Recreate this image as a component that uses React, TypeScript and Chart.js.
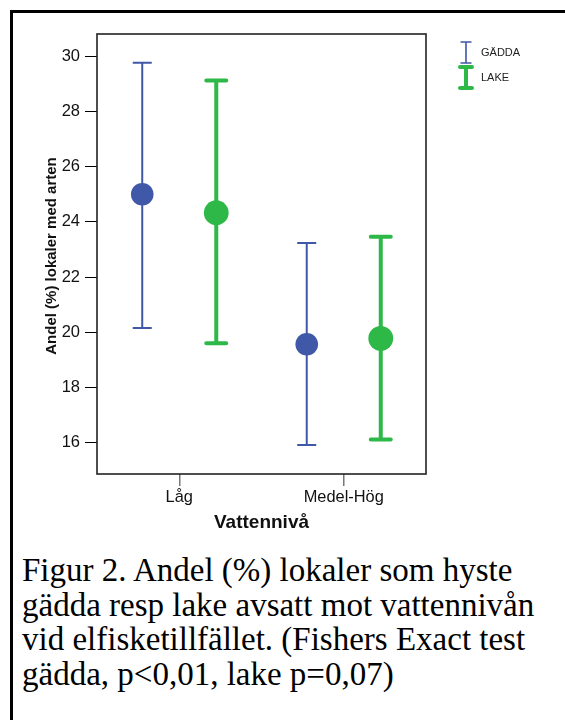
import React, { useEffect, useRef } from 'react';
import { Chart, registerables } from 'chart.js';

Chart.register(...registerables);

// ---- data ----
const categories = ['Låg', 'Medel-Hög'];
const seriesNames = ['GÄDDA', 'LAKE'];
const gaddaMean = [25.0, 19.57];
const gaddaUpper = [29.76, 23.23];
const gaddaLower = [20.16, 15.92];
const lakeMean = [24.33, 19.78];
const lakeUpper = [29.12, 23.46];
const lakeLower = [19.6, 16.12];
const yTicks = [16, 18, 20, 22, 24, 26, 28, 30];
const yTitle = 'Andel (%) lokaler med arten';
const xTitle = 'Vattennivå';
const captionLines = [
  'Figur 2. Andel (%) lokaler som hyste',
  'gädda resp lake avsatt mot vattennivån',
  'vid elfisketillfället. (Fishers Exact test',
  'gädda, p<0,01, lake p=0,07)',
];

// ---- styles ----
const BLUE = '#3F58A8';
const GREEN = '#2EB848';
const GROUP_OFFSET = 0.225;
const SANS = '"Liberation Sans", Arial, sans-serif';

const barStyles = [
  { color: BLUE, lineWidth: 2, capHalf: 9.5, capWidth: 2, capStyle: 'butt', radius: 11.3, legCapHalf: 5.5, legWidth: 1.6 },
  { color: GREEN, lineWidth: 4, capHalf: 10, capWidth: 4, capStyle: 'round', radius: 12.4, legCapHalf: 6, legWidth: 4 },
];

const errorBarPlugin = {
  id: 'errorBars',
  beforeDatasetsDraw(chart: any) {
    const { ctx } = chart;
    const xs = chart.scales.x;
    const ys = chart.scales.y;
    chart.data.datasets.forEach((ds: any, di: number) => {
      const st = barStyles[di];
      ds.data.forEach((p: any, i: number) => {
        const x = xs.getPixelForValue(p.x);
        const yt = ys.getPixelForValue(ds.upper[i]);
        const yb = ys.getPixelForValue(ds.lower[i]);
        ctx.save();
        ctx.strokeStyle = st.color;
        ctx.lineWidth = st.lineWidth;
        ctx.beginPath();
        ctx.moveTo(x, yt);
        ctx.lineTo(x, yb);
        ctx.stroke();
        ctx.lineWidth = st.capWidth;
        ctx.lineCap = st.capStyle;
        ctx.beginPath();
        ctx.moveTo(x - st.capHalf, yt);
        ctx.lineTo(x + st.capHalf, yt);
        ctx.moveTo(x - st.capHalf, yb);
        ctx.lineTo(x + st.capHalf, yb);
        ctx.stroke();
        ctx.restore();
      });
    });
  },
  afterDraw(chart: any) {
    const { ctx, chartArea: a } = chart;
    ctx.save();
    // plot frame
    ctx.strokeStyle = '#222';
    ctx.lineWidth = 1.6;
    ctx.strokeRect(a.left, a.top, a.right - a.left, a.bottom - a.top);
    // y title
    ctx.fillStyle = '#111';
    ctx.font = `bold 15px ${SANS}`;
    ctx.textAlign = 'center';
    ctx.textBaseline = 'middle';
    ctx.save();
    ctx.translate(52, (a.top + a.bottom) / 2 + 2);
    ctx.rotate(-Math.PI / 2);
    ctx.fillText(yTitle, 0, 0);
    ctx.restore();
    // x title
    ctx.font = `bold 19px ${SANS}`;
    ctx.fillText(xTitle, (a.left + a.right) / 2, 523);
    // legend
    chart.data.datasets.forEach((ds: any, di: number) => {
      const st = barStyles[di];
      const lx = a.right + 40;
      const top = 42 + di * 25;
      const bot = top + 21;
      ctx.strokeStyle = st.color;
      ctx.lineWidth = st.legWidth;
      ctx.lineCap = st.capStyle;
      ctx.beginPath();
      ctx.moveTo(lx, top);
      ctx.lineTo(lx, bot);
      ctx.moveTo(lx - st.legCapHalf, top);
      ctx.lineTo(lx + st.legCapHalf, top);
      ctx.moveTo(lx - st.legCapHalf, bot);
      ctx.lineTo(lx + st.legCapHalf, bot);
      ctx.stroke();
      ctx.fillStyle = '#222';
      ctx.font = `11px ${SANS}`;
      ctx.textAlign = 'left';
      ctx.textBaseline = 'middle';
      ctx.fillText(ds.label, lx + 15, (top + bot) / 2);
    });
    ctx.restore();
  },
};

export default function App() {
  const ref = useRef<HTMLCanvasElement | null>(null);

  useEffect(() => {
    if (!ref.current) return;
    const mk = (means: number[], sign: number) =>
      means.map((m, i) => ({ x: i + 1 + sign * GROUP_OFFSET, y: m }));
    const chart = new Chart(ref.current, {
      type: 'scatter',
      data: {
        datasets: [
          {
            label: seriesNames[0],
            data: mk(gaddaMean, -1),
            upper: gaddaUpper,
            lower: gaddaLower,
            pointRadius: barStyles[0].radius,
            pointHoverRadius: barStyles[0].radius,
            pointBackgroundColor: BLUE,
            pointBorderWidth: 0,
            borderColor: BLUE,
            backgroundColor: BLUE,
          } as any,
          {
            label: seriesNames[1],
            data: mk(lakeMean, 1),
            upper: lakeUpper,
            lower: lakeLower,
            pointRadius: barStyles[1].radius,
            pointHoverRadius: barStyles[1].radius,
            pointBackgroundColor: GREEN,
            pointBorderWidth: 0,
            borderColor: GREEN,
            backgroundColor: GREEN,
          } as any,
        ],
      },
      options: {
        responsive: false,
        animation: false,
        events: [],
        layout: { padding: { top: 34, right: 139, bottom: 11, left: 0 } },
        plugins: { legend: { display: false }, tooltip: { enabled: false }, title: { display: false } },
        scales: {
          x: {
            type: 'linear',
            min: 0.5,
            max: 2.5,
            afterBuildTicks: (s: any) => {
              s.ticks = categories.map((_, i) => ({ value: i + 1 }));
            },
            afterFit: (s: any) => {
              s.height = 60;
            },
            ticks: {
              callback: (v: any) => categories[Math.round(Number(v)) - 1] ?? '',
              font: { family: SANS, size: 16.4 },
              color: '#111',
              padding: 2,
              autoSkip: false,
              maxRotation: 0,
            },
            grid: { drawOnChartArea: false, drawTicks: true, tickLength: 12, color: '#777', lineWidth: 1.5 },
            border: { display: false },
          },
          y: {
            type: 'linear',
            min: 14.87,
            max: 30.8,
            afterBuildTicks: (s: any) => {
              s.ticks = yTicks.map((v) => ({ value: v }));
            },
            afterFit: (s: any) => {
              s.width = 97;
            },
            ticks: {
              font: { family: SANS, size: 16.5 },
              color: '#111',
              padding: 5,
            },
            grid: { drawOnChartArea: false, drawTicks: true, tickLength: 12, color: '#000', lineWidth: 1 },
            border: { display: false },
          },
        },
      },
      plugins: [errorBarPlugin],
    } as any);
    return () => chart.destroy();
  }, []);

  return (
    <div style={{ position: 'fixed', left: 0, top: 0, width: 565, height: 720, overflow: 'hidden', background: '#fff' }}>
      <div
        style={{
          position: 'absolute',
          left: 10,
          top: 10,
          width: 555,
          height: 710,
          borderTop: '3px solid #000',
          borderLeft: '3px solid #000',
          boxSizing: 'border-box',
        }}
      />
      <canvas ref={ref} width={565} height={545} style={{ position: 'absolute', left: 0, top: 0, width: 565, height: 545 }} />
      <div
        style={{
          position: 'absolute',
          left: 22,
          top: 553,
          fontFamily: '"Liberation Serif", "Times New Roman", serif',
          fontSize: 33,
          lineHeight: '34.7px',
          color: '#000',
          whiteSpace: 'pre',
        }}
      >
        {captionLines.map((l, i) => (
          <div key={i}>{l}</div>
        ))}
      </div>
    </div>
  );
}
